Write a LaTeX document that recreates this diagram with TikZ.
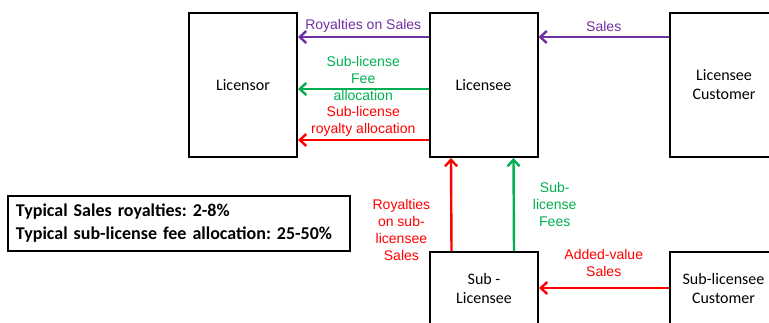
\documentclass[tikz,border=0pt]{standalone}
\usepackage{fontspec}
\setmainfont{Carlito}
\newfontfamily\labelfont{Liberation Sans}
\usetikzlibrary{arrows.meta}

\definecolor{salespurple}{HTML}{7030A0}
\definecolor{feegreen}{HTML}{00B050}
\definecolor{royaltyred}{HTML}{FF0000}

\tikzstyle{party}=[rectangle, draw=black, line width=2pt, minimum width=108pt, inner sep=2pt, align=center, font=\fontsize{16}{19}\selectfont]
\tikzstyle{myflow}=[-{Straight Barb[length=6.5pt,width=12pt]}, line width=2.4pt]
\tikzstyle{flowlabel}=[align=center, inner sep=1pt, font=\labelfont\fontsize{14}{17}\selectfont]

\begin{document}
\begin{tikzpicture}[x=1pt, y=-1pt]
		    \useasboundingbox (0,0) rectangle (769,322);
		    \node (licensor) at (243, 85) [party, minimum height=144pt] {Licensor};
		    \node (licensee) at (483.5, 85) [party, minimum height=144pt] {Licensee};
		    \node (licenseeCustomer) at (724, 85) [party, minimum height=144pt] {Licensee\\Customer};
		    
			\node (sublicensee) at (484, 288) [party, minimum height=72pt] {Sub -\\Licensee};
			\node (sublicenseeCustomer) at (723.5, 288) [party, minimum height=72pt] {Sub-licensee\\Customer};
			
			\node (typicalRates) at (179, 223.5) [rectangle, draw=black, line width=2pt, text width=326pt, inner xsep=8pt, minimum height=55pt, align=left, font=\bfseries\frenchspacing\fontsize{18}{23}\selectfont] {Typical Sales royalties: 2-8\%\\Typical sub-license fee allocation: 25-50\%};
			
			\draw[myflow, salespurple] ([yshift=48pt]licenseeCustomer.west) -- ([yshift=48pt]licensee.east) node[flowlabel, midway, yshift=11pt] {Sales};
			\draw[myflow, salespurple] ([yshift=48pt]licensee.west) -- ([yshift=48pt]licensor.east) node[flowlabel, midway, yshift=11pt] {Royalties on Sales};
			\draw[myflow, feegreen] ([yshift=-4pt]licensee.west) -- ([yshift=-4pt]licensor.east) node[flowlabel, midway, yshift=11pt] {Sub-license\\Fee\\allocation};
			\draw[myflow, royaltyred] ([yshift=-55pt]licensee.west) -- ([yshift=-55pt]licensor.east) node[flowlabel, midway, yshift=19pt] {Sub-license\\royalty allocation};
			
			\draw[myflow, royaltyred] ([xshift=-32.5pt]sublicensee.north) -- ([xshift=-32.5pt]licensee.south) node[flowlabel, pos=0.23, left=19pt] {Royalties\\on sub-\\licensee\\Sales};
			\draw[myflow, feegreen] ([xshift=30pt]sublicensee.north) -- ([xshift=30pt]licensee.south) node[flowlabel, midway, right=17pt] {Sub-\\license\\Fees};
			\draw[myflow, royaltyred] (sublicenseeCustomer.west) -- (sublicensee.east) node[flowlabel, midway, yshift=25pt] {Added-value\\Sales};
		\end{tikzpicture}
\end{document}
